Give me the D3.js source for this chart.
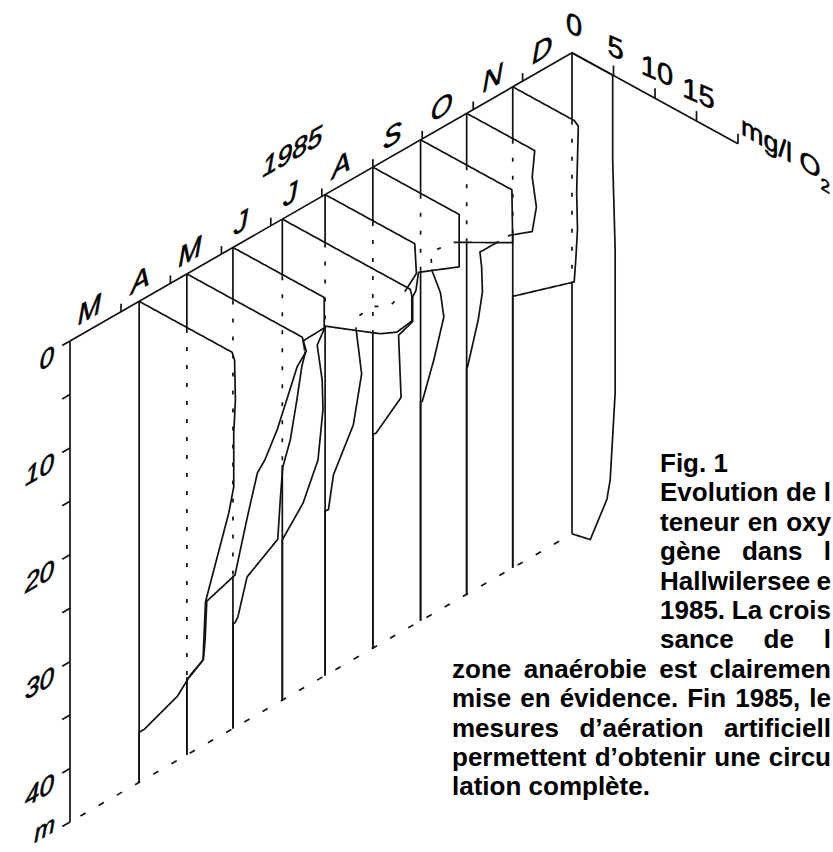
<!DOCTYPE html>
<html>
<head>
<meta charset="utf-8">
<script src="https://cdnjs.cloudflare.com/ajax/libs/d3/7.8.5/d3.min.js"></script>
<style>
  html, body { margin: 0; padding: 0; background: #fff; overflow: hidden; }
  svg { display: block; font-family: "Liberation Sans", Arial, Helvetica, sans-serif; }
</style>
</head>
<body>
<svg id="chart" width="833" height="852"></svg>
<script>
(function () {
  "use strict";

  // month letters along the time axis, March to December 1985
  const MONTHS = ["M", "A", "M", "J", "J", "A", "S", "O", "N", "D"];
  const YEAR = "1985";
  // depth axis (m)
  const DEPTH_TICKS = [0, 5, 10, 15, 20, 25, 30, 35, 40, 45];
  const DEPTH_LABELS = [0, 10, 20, 30, 40];
  // oxygen axis (mg/l)
  const O2_TICKS = [5, 10, 15, 20];
  const O2_LABELS = [0, 5, 10, 15];

  // sampling dates, one profile each
  const DATES = ["1985-04-12", "1985-05-11", "1985-06-08", "1985-07-08", "1985-08-03",
    "1985-09-01", "1985-09-30", "1985-10-28", "1985-11-25", "1985-12-31"];

  // profiles as [depth m, O2 mg/l]
  const apr12 = [[0, 11.2], [0.6, 11.5], [4.3, 11.6], [7.5, 11.4], [12.5, 11.4], [15.2, 10.8],
    [24.7, 8.0], [28.3, 7.8], [30.3, 7.7], [32.3, 6.2], [35.0, 4.6], [39.8, 0.6], [40.3, 0]];
  const may11 = [[0, 13.9], [1.1, 14.4], [3.0, 13.3], [5.6, 12.4], [9.9, 10.9], [13.4, 9.4],
    [15.0, 8.5], [19.6, 7.3], [25.7, 5.8], [29.6, 2.4], [33.3, 2.2], [35.2, 2.0], [37.2, 0.6],
    [37.7, 0.2], [37.8, 0]];
  const jun08 = [[0, 11.0], [2.85, 11.0], [5.15, 8.45], [6.2, 8.7], [7.6, 8.3], [11.0, 7.7],
    [15.1, 6.9], [18.0, 6.0], [21.2, 5.7], [25.0, 5.4], [30.1, 1.7], [34.3, 0.6], [35.0, 0.25],
    [35.2, 0]];
  const jul08 = [[0, 15.4], [0.5, 15.6], [2.9, 15.6], [4.7, 13.8], [5.7, 11.8], [6.6, 9.0],
    [7.8, 5.2], [10.0, 4.2], [13.0, 4.8], [15.7, 4.9], [20.7, 4.3], [25.5, 2.5], [30.0, 0]];
  const aug03 = [[0, 10.8], [2.7, 11.0], [5.0, 9.6], [7.1, 7.8], [8.1, 5.6], [10.1, 3.6],
    [11.4, 3.8], [14.9, 4.4], [20.1, 3.4], [25.8, 1.0], [29.3, 0.4], [29.6, 0]];
  const sep01 = [[0, 10.4], [4.9, 10.4], [7.5, 5.5], [9.3, 5.2], [10.1, 4.8], [12.4, 4.8],
    [14.4, 3.1], [20.1, 3.4], [24.7, 0.4], [25.0, 0]];
  const sep30 = [[0, 11.0], [4.9, 11.1], [7.9, 4.0], [10.0, 1.2], [11.7, 1.4], [13.3, 2.4],
    [15.4, 2.8], [19.9, 1.6], [24.4, 0.2], [24.5, 0]];
  const oct28 = [[0, 8.2], [2.6, 7.9], [5.2, 8.4], [7.7, 7.9], [9.2, 5.2], [12.3, 1.6],
    [13.6, 1.8], [15.9, 1.9], [18.7, 1.4], [23.7, 0.1], [23.8, 0]];
  const nov25 = [[0, 7.4], [0.3, 7.9], [3.5, 7.8], [6.6, 7.7], [10.0, 7.8], [12.9, 7.6],
    [15.1, 7.4], [19.6, 0]];
  const dec31 = [[0, 4.9], [7.9, 4.9], [16.2, 5.2], [29.6, 5.2], [38.0, 4.6], [40.0, 4.2],
    [44.6, 2.2], [45.0, 0]];
  const PROFILES = [apr12, may11, jun08, jul08, aug03, sep01, sep30, oct28, nov25, dec31];

  // caption, as much of each line as the page shows
  const CAPTION_HEAD = "Fig. 1";
  const CAPTION_NARROW = ["Evolution de l", "teneur en oxy", "gène dans l",
    "Hallwilersee e", "1985. La crois", "sance de l"];
  const CAPTION_WIDE = ["zone anaérobie est clairemen", "mise en évidence. Fin 1985, le",
    "mesures d’aération artificiell", "permettent d’obtenir une circu", "lation complète."];

  // oblique projection: time goes up-right, O2 down-right, depth straight down
  const originX = 70, originY = 341;
  const timeSlope = 0.574, o2Slope = 0.548;
  const maxDepth = 45;
  const parseDate = d3.timeParse("%Y-%m-%d");
  const tStart = new Date(1985, 2, 1), tEnd = new Date(1985, 11, 31);

  const timeScale = d3.scaleTime().domain([tStart, tEnd]).range([0, 502]);
  const o2Scale = d3.scaleLinear().domain([0, 20]).range([0, 166]);
  const depthScale = d3.scaleLinear().domain([0, maxDepth]).range([0, 481]);

  function proj(date, z, c) {
    const t = timeScale(date), k = o2Scale(c);
    return [originX + t + k, originY - t * timeSlope + k * o2Slope + depthScale(z)];
  }

  const svg = d3.select("#chart");
  const lineGen = d3.line();

  // ---- hidden line helpers: earlier profiles hide the later ones
  function segDist(p, a, b) {
    const dx = b[0] - a[0], dy = b[1] - a[1];
    const l2 = dx * dx + dy * dy;
    let t = l2 ? ((p[0] - a[0]) * dx + (p[1] - a[1]) * dy) / l2 : 0;
    t = Math.max(0, Math.min(1, t));
    return Math.hypot(p[0] - a[0] - t * dx, p[1] - a[1] - t * dy);
  }
  function edgeDist(p, poly) {
    let m = Infinity;
    for (let i = 0; i < poly.length; i++) {
      m = Math.min(m, segDist(p, poly[i], poly[(i + 1) % poly.length]));
    }
    return m;
  }
  function isHidden(p, polys) {
    return polys.some((poly) => d3.polygonContains(poly, p) && edgeDist(p, poly) > 1);
  }
  function splitRuns(pts, polys) {
    const runs = [];
    let cur = null;
    for (let k = 0; k < pts.length - 1; k++) {
      const a = pts[k], b = pts[k + 1];
      const n = Math.max(1, Math.ceil(Math.hypot(b[0] - a[0], b[1] - a[1])));
      for (let s = 0; s < n; s++) {
        const p0 = [a[0] + (b[0] - a[0]) * s / n, a[1] + (b[1] - a[1]) * s / n];
        const p1 = [a[0] + (b[0] - a[0]) * (s + 1) / n, a[1] + (b[1] - a[1]) * (s + 1) / n];
        const hid = isHidden([(p0[0] + p1[0]) / 2, (p0[1] + p1[1]) / 2], polys);
        if (!cur || cur.hidden !== hid) {
          cur = { hidden: hid, pts: [p0] };
          runs.push(cur);
        }
        cur.pts.push(p1);
      }
    }
    return runs;
  }

  // build profile polylines; each one closes back up its zero line
  const profiles = DATES.map((ds, i) => {
    const date = parseDate(ds);
    const pts = [[0, 0]].concat(PROFILES[i]);
    if (pts[pts.length - 1][0] < maxDepth) pts.push([maxDepth, 0]);
    const line = pts.map(([z, c]) => proj(date, z, c));
    const zero = [proj(date, 0, 0), proj(date, maxDepth, 0)];
    return { date, line, zero };
  });

  const ink = svg.append("g")
    .attr("fill", "none")
    .attr("stroke", "#111")
    .attr("stroke-width", 1.7)
    .attr("stroke-linejoin", "round");

  // axes
  const axisTop = proj(tStart, 0, 0), axisBottom = proj(tStart, maxDepth, 0);
  ink.append("path").attr("d", lineGen([axisTop, axisBottom]));
  ink.append("path").attr("d", lineGen([axisTop, proj(tEnd, 0, 0)]));
  ink.append("path").attr("d", lineGen([proj(tEnd, 0, 0), proj(tEnd, 0, 20)]));
  // lake bottom, dashed
  ink.append("path")
    .attr("d", lineGen([axisBottom, proj(tEnd, maxDepth, 0)]))
    .attr("stroke-dasharray", "6,15")
    .attr("stroke-dashoffset", -12);

  // depth ticks point back along the time axis
  DEPTH_TICKS.forEach((d) => {
    const p = proj(tStart, d, 0);
    ink.append("path").attr("d", lineGen([p, [p[0] - 7.8, p[1] + 4.5]]));
  });
  // month boundary ticks
  d3.timeMonth.range(new Date(1985, 3, 1), new Date(1985, 11, 2)).forEach((m) => {
    const p = proj(m, 0, 0);
    ink.append("path").attr("d", lineGen([p, [p[0], p[1] - 8]]));
  });
  // O2 ticks
  O2_TICKS.forEach((c) => {
    const p = proj(tEnd, 0, c);
    ink.append("path").attr("d", lineGen([p, [p[0], p[1] - 10]]));
  });

  // profiles and zero lines, front (April) to back (December)
  profiles.forEach((p, i) => {
    const front = profiles.slice(0, i).map((q) => q.line);
    [p.zero, p.line].forEach((pl) => {
      splitRuns(pl, front).forEach((run) => {
        ink.append("path")
          .attr("d", lineGen(run.pts))
          .attr("stroke-dasharray", run.hidden ? "4,14" : null);
      });
    });
  });

  // labels, a light stroke to match the heavy print
  const labels = svg.append("g")
    .attr("fill", "#000")
    .attr("stroke", "#000")
    .attr("stroke-width", 0.6);

  DEPTH_LABELS.forEach((d) => {
    const p = proj(tStart, d, 0);
    labels.append("text")
      .attr("transform", `translate(54,${p[1] + 22}) skewY(-30)`)
      .attr("text-anchor", "end")
      .attr("font-size", 26)
      .attr("font-style", "italic")
      .text(d);
  });
  labels.append("text")
    .attr("transform", `translate(55,${axisBottom[1] + 9}) skewY(-30)`)
    .attr("text-anchor", "end")
    .attr("font-size", 25)
    .attr("font-style", "italic")
    .text("m");

  MONTHS.forEach((m, i) => {
    const p = proj(new Date(1985, 2 + i, 14), 0, 0);
    labels.append("text")
      .attr("transform", `translate(${p[0] - 2},${p[1] - 10}) skewY(-30)`)
      .attr("text-anchor", "middle")
      .attr("font-size", 28)
      .attr("font-style", "italic")
      .text(m);
  });
  const yp = proj(new Date(1985, 6, 14), 0, 0);
  labels.append("text")
    .attr("transform", `translate(${yp[0]},${yp[1] - 53}) skewY(-30)`)
    .attr("text-anchor", "middle")
    .attr("font-size", 27)
    .attr("font-style", "italic")
    .text(YEAR);

  O2_LABELS.forEach((c) => {
    const p = proj(tEnd, 0, c);
    labels.append("text")
      .attr("transform", `translate(${p[0] + 2},${p[1] - 18}) skewY(24)`)
      .attr("text-anchor", "middle")
      .attr("font-size", 29)
      .text(c);
  });
  const ue = proj(tEnd, 0, 20);
  const unit = labels.append("text")
    .attr("transform", `translate(${ue[0] + 3},${ue[1] - 10}) skewY(30)`)
    .attr("font-size", 27)
    .text("mg/l O");
  unit.append("tspan").attr("font-size", 17).attr("dy", 9).text("2");

  // caption, justified to the page edge
  const cap = svg.append("g").attr("font-weight", "bold").attr("font-size", 26).attr("fill", "#000");
  const rightEdge = 831, lineH = 29.4, firstBase = 472;
  cap.append("text").attr("x", 660).attr("y", firstBase).text(CAPTION_HEAD);
  const rows = CAPTION_NARROW.map((t) => ({ t, x: 660 }))
    .concat(CAPTION_WIDE.map((t) => ({ t, x: 452 })));
  rows.forEach((r, i) => {
    const txt = cap.append("text")
      .attr("x", r.x)
      .attr("y", firstBase + (i + 1) * lineH)
      .text(r.t);
    if (i < rows.length - 1) {
      const spaces = r.t.split(" ").length - 1;
      const w = txt.node().getComputedTextLength();
      if (spaces > 0) txt.attr("word-spacing", (rightEdge - r.x - w) / spaces);
    }
  });
})();
</script>
</body>
</html>
